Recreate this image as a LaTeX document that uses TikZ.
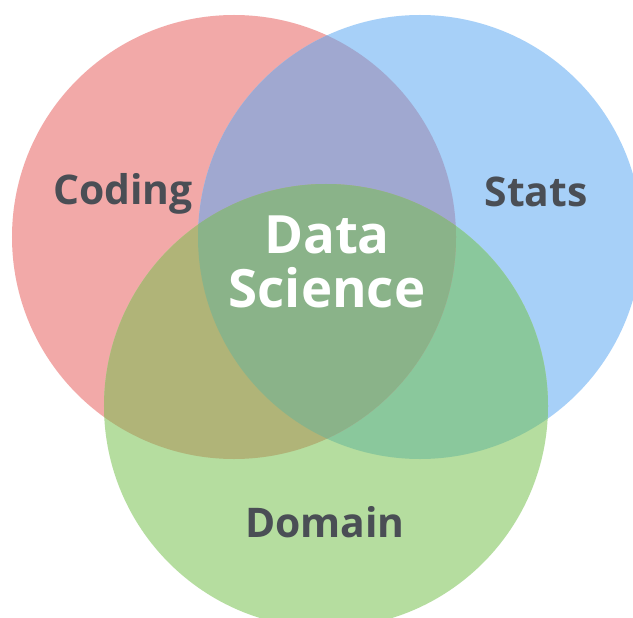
\documentclass[tikz,border=0pt]{standalone}
\usepackage{fontspec}
\setmainfont{Open Sans}
\definecolor{codingred}{HTML}{F2A9A8}
\definecolor{statsblue}{HTML}{A7D0F8}
\definecolor{domaingreen}{HTML}{B5DD9F}
\definecolor{codstats}{HTML}{A0A8D0}
\definecolor{coddomain}{HTML}{B0B478}
\definecolor{statsdomain}{HTML}{8AC89C}
\definecolor{allthree}{HTML}{8AB389}
\definecolor{labelgray}{HTML}{4A4E55}

\begin{document}
\begin{tikzpicture}[x=1bp, y=-1bp,
    lbl/.style={font=\bfseries\fontsize{41}{44}\selectfont, text=labelgray, anchor=base},
    mainlbl/.style={font=\bfseries\fontsize{53}{54}\selectfont, text=white, align=center}]
    \fill[white] (0,0) rectangle (633,618);
    \useasboundingbox (0,0) rectangle (633,618);
    \clip (0,0) rectangle (633,618);
    \coordinate (coding) at (234,237);
    \coordinate (stats) at (420,237);
    \coordinate (domain) at (326,406);
    \def\rad{222bp}

    \fill[codingred] (coding) circle (\rad);
    \fill[statsblue] (stats) circle (\rad);
    \fill[domaingreen] (domain) circle (\rad);
    \begin{scope}
        \clip (stats) circle (\rad);
        \fill[statsdomain] (domain) circle (\rad);
    \end{scope}
    \begin{scope}
        \clip (coding) circle (\rad);
        \fill[codstats] (stats) circle (\rad);
        \fill[coddomain] (domain) circle (\rad);
        \clip (stats) circle (\rad);
        \fill[allthree] (domain) circle (\rad);
    \end{scope}

    \node[lbl] (codinglbl) at (123,204) {Coding};
    \node[lbl] (statslbl) at (536,206) {Stats};
    \node[lbl] (domainlbl) at (325,537) {Domain};
    \node[mainlbl] (dslbl) at (327,262) {Data\\Science};
\end{tikzpicture}
\end{document}
